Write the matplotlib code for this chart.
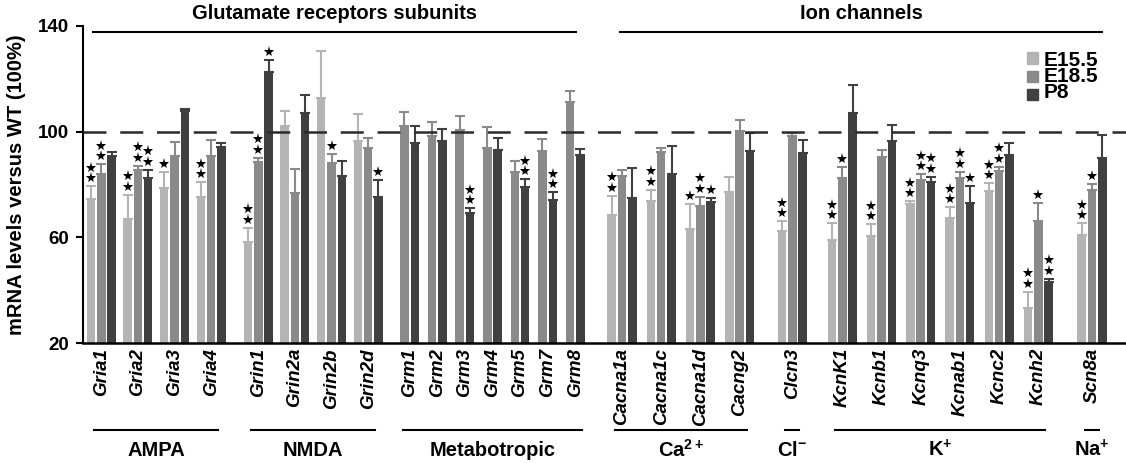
import numpy as np
import matplotlib
matplotlib.use("Agg")
import matplotlib.pyplot as plt
from matplotlib.patches import Rectangle

# genes, grouped
genes = ["Gria1", "Gria2", "Gria3", "Gria4",
         "Grin1", "Grin2a", "Grin2b", "Grin2d",
         "Grm1", "Grm2", "Grm3", "Grm4", "Grm5", "Grm7", "Grm8",
         "Cacna1a", "Cacna1c", "Cacna1d", "Cacng2",
         "Clcn3",
         "KcnK1", "Kcnb1", "Kcnq3", "Kcnab1", "Kcnc2", "Kcnh2",
         "Scn8a"]
group_names = ["AMPA", "NMDA", "Metabotropic", "Ca$^{2+}$", "Cl$^{-}$", "K$^{+}$", "Na$^{+}$"]
group_sizes = [4, 4, 7, 4, 1, 6, 1]
stages = ["E15.5", "E18.5", "P8"]

nan = np.nan
# mRNA levels (% of WT) and upper error (SEM)
e155 = [74.4, 66.8, 78.5, 75.4, 58.3, 102.1, 112.9, 96.6,
        nan, nan, nan, nan, nan, nan, nan,
        68.4, 73.8, 63.0, 77.2, 62.3, 59.0, 60.5, 72.6, 67.5, 77.6, 33.4, 60.8]
e155_err = [5.0, 9.4, 6.1, 5.4, 5.4, 5.8, 17.8, 10.0,
            nan, nan, nan, nan, nan, nan, nan,
            7.3, 4.3, 9.5, 5.7, 3.8, 6.3, 4.4, 1.1, 3.8, 2.8, 6.0, 4.5]
e185 = [84.0, 85.5, 90.8, 90.8, 88.6, 76.9, 88.2, 94.0,
        102.1, 98.3, 100.6, 94.0, 84.8, 92.7, 111.1,
        83.2, 92.2, 72.0, 100.2, 98.3, 82.6, 90.3, 81.7, 82.6, 85.1, 66.1, 78.1]
e185_err = [3.7, 1.6, 5.4, 6.0, 1.5, 8.8, 3.3, 3.7,
            5.4, 5.5, 5.4, 7.6, 4.2, 4.5, 4.3,
            2.3, 1.5, 3.4, 4.4, 1.1, 4.1, 2.7, 2.1, 2.2, 1.6, 7.0, 2.1]
p8 = [90.8, 82.3, 107.9, 94.3, 122.7, 106.9, 83.2, 75.1,
      95.8, 96.4, 69.3, 93.0, 78.9, 74.1, 91.1,
      75.0, 83.9, 73.2, 92.8, 92.0, 106.9, 96.6, 80.9, 73.1, 91.1, 43.2, 89.9]
p8_err = [1.4, 3.2, 0.5, 1.5, 4.4, 7.0, 5.8, 6.6,
          6.3, 4.6, 1.7, 4.7, 3.0, 2.9, 2.2,
          11.3, 10.8, 1.8, 6.6, 4.8, 10.8, 5.9, 2.0, 6.3, 4.7, 1.2, 8.8]
# number of significance stars
e155_sig = [2, 2, 1, 2, 2, 0, 0, 0, 0, 0, 0, 0, 0, 0, 0,
            2, 2, 1, 0, 2, 2, 2, 2, 2, 2, 2, 2]
e185_sig = [2, 2, 0, 0, 2, 0, 1, 0, 0, 0, 0, 0, 0, 0, 0,
            0, 0, 2, 0, 0, 1, 0, 2, 2, 2, 1, 1]
p8_sig = [0, 2, 0, 0, 1, 0, 0, 1, 0, 0, 2, 0, 2, 2, 0,
          0, 0, 1, 0, 0, 0, 0, 2, 1, 0, 2, 0]

colors = ["#b4b4b4", "#8a8a8a", "#404040"]

plt.rcParams['font.family'] = ['Liberation Sans', 'DejaVu Sans']
plt.rcParams['mathtext.fontset'] = 'custom'
plt.rcParams['mathtext.rm'] = 'Liberation Sans:bold'
plt.rcParams['mathtext.it'] = 'Liberation Sans:bold:italic'
plt.rcParams['mathtext.bf'] = 'Liberation Sans:bold'

# layout: x axis is in pixel-like units
group_start = [101.3, 258.3, 409.6, 622.0, 792.3, 842.3, 1092.0]
group_step = [36.6, 36.6, 27.6, 39.2, 0.0, 39.2, 0.0]
x = []
for start, step, n in zip(group_start, group_step, group_sizes):
    x += [start + i * step for i in range(n)]
x = np.array(x)
bar_step = 10.3
bar_w = 8.5
px_per_unit = 317 / 120  # vertical pixels per % unit

fig = plt.figure(figsize=(11.26, 4.63), dpi=100)
ax = fig.add_axes([83 / 1126, 120 / 463, 1043 / 1126, 317 / 463])
ax.set_xlim(83, 1126)
ax.set_ylim(20, 140)

series = [(e155, e155_err, e155_sig), (e185, e185_err, e185_sig), (p8, p8_err, p8_sig)]
for k, (vals, errs, sig) in enumerate(series):
    xs, hs, es, ss = [], [], [], []
    for i in range(len(genes)):
        if np.isnan(vals[i]):
            continue
        if np.isnan(e155[i]):
            off = (k - 1.5) * bar_step  # two-bar genes
        else:
            off = (k - 1) * bar_step
        xs.append(x[i] + off)
        hs.append(vals[i])
        es.append(errs[i])
        ss.append(sig[i])
    ax.bar(xs, np.array(hs) - 20, bottom=20, width=bar_w, color=colors[k], zorder=2,
           yerr=[np.zeros(len(es)), es],
           error_kw=dict(ecolor=colors[k], elinewidth=1.5, capsize=3.5, capthick=1.5, zorder=2))
    # significance stars stacked above the error bar
    sx, sy = [], []
    for xb, h, e, n in zip(xs, hs, es, ss):
        for j in range(n):
            sx.append(xb)
            sy.append(h + e + (8 + j * 10.5) / px_per_unit)
    ax.plot(sx, sy, ls="none", marker="*", ms=8, color="black", mew=0,
            zorder=4, clip_on=False)

# reference line at WT level
ax.axhline(100, color="#2a2a2a", lw=1.8, ls=(0, (9.2, 5.5)), zorder=3)

for side in ["top", "right"]:
    ax.spines[side].set_visible(False)
ax.spines["left"].set_linewidth(1.5)
ax.spines["bottom"].set_linewidth(1.8)
ax.set_yticks([20, 60, 100, 140])
ax.tick_params(axis="y", length=5, width=1.5, labelsize=13.5, pad=5)
for t in ax.get_yticklabels():
    t.set_fontweight("bold")
ax.set_xticks([])
ax.set_ylabel("mRNA levels versus WT (100%)", fontsize=14.5, fontweight="bold")
ax.yaxis.set_label_coords(-0.055, 0.5)

# gene names
for xi, g in zip(x, genes):
    ax.text(xi, 18.1, g, rotation=90, ha="center", va="top", fontsize=13.5,
            fontweight="bold", style="italic", clip_on=False)

# bottom group brackets
tr = ax.get_xaxis_transform()
idx = 0
for name, n in zip(group_names, group_sizes):
    x0 = x[idx] - 7
    x1 = x[idx + n - 1] + 7
    ax.plot([x0, x1], [-0.274, -0.274], color="black", lw=1.5, transform=tr, clip_on=False)
    ax.text((x0 + x1) / 2, -0.338, name, ha="center", va="center", fontsize=14.5,
            fontweight="bold", transform=tr)
    idx += n

# top headings
glut = (x[0] - 8, x[14] + 1)
ion = (x[15] - 2, x[-1] + 10)
for (x0, x1), label in [(glut, "Glutamate receptors subunits"), (ion, "Ion channels")]:
    ax.plot([x0, x1], [137.8, 137.8], color="black", lw=1.5, clip_on=False)
    ax.text((x0 + x1) / 2, 144.6, label, ha="center", va="center", fontsize=14.5,
            fontweight="bold", clip_on=False)

# legend: squares plus one stacked text block
row_y = [127.9, 120.9, 113.9]
for k, yc in enumerate(row_y):
    ax.add_patch(Rectangle((1027, yc - 2.1), 11, 4.2, color=colors[k], clip_on=False))
ax.text(1044, row_y[1], "\n".join(stages), ha="left", va="center", fontsize=15,
        fontweight="bold", linespacing=0.8)

fig.savefig("out.png", dpi=100)
